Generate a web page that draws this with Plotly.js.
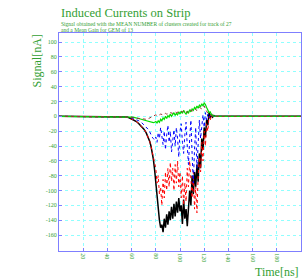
<!DOCTYPE html>
<html>
<head>
<meta charset="utf-8">
<script src="https://cdn.plot.ly/plotly-3.0.1.min.js"></script>
<style>html,body{margin:0;padding:0;background:#fff;}#chart{width:304px;height:278px;}</style>
</head>
<body>
<div id="chart"></div>
<script>
// Time axis (ns)
const timeNs = [0, 50, 52, 54, 56, 58, 60, 62, 64, 66, 68, 70, 72, 74,
  75, 76, 77, 78, 79, 80, 81, 82, 83, 84, 85, 86, 87, 88, 89, 90,
  91, 92, 93, 94, 95, 96, 97, 98, 99, 100, 101, 102, 103, 104, 105,
  106, 107, 108, 109, 110, 111, 112, 113, 114, 115, 116, 117, 118, 119, 120,
  121, 122, 123, 124, 125, 126, 127, 128, 129, 130, 200];

// Series values (nA)
const blackSignal = [0, 0, 0, -0.5, -1, -2, -3.5, -5, -7, -10, -13, -17, -22, -29,
  -34, -40, -48, -58, -72, -90, -110, -128, -140, -150, -146, -156, -138, -150, -132, -146,
  -128, -140, -122, -138, -118, -135, -115, -130, -110, -128, -120, -145, -112, -138, -125,
  -148, -118, -100, -120, -80, -105, -75, -95, -65, -88, -50, -70, -30, -45, -15,
  -28, -5, -12, 5, -2, 3, -1, 1, 0, 0, 0];

const redSignal = [0, 0, 0, -0.5, -1, -2, -3.5, -5, -7, -10, -13, -17, -22, -29,
  -34, -40, -48, -56, -62, -70, -90, -80, -105, -95, -120, -85, -110, -75, -100, -70,
  -95, -62, -88, -70, -100, -65, -90, -60, -95, -75, -110, -80, -120, -90, -115,
  -70, -95, -60, -85, -110, -75, -125, -95, -130, -80, -55, -75, -35, -60, -20,
  -40, -10, -20, 0, -6, 2, 0, 0, 0, 0, 0];

const blueSignal = [0, 0, 0, 0, -0.5, -1, -2, -3, -4.5, -6, -8, -11, -14, -18,
  -21, -25, -28, -30, -32, -28, -35, -22, -30, -15, -28, -38, -20, -45, -25, -12,
  -35, -20, -48, -30, -18, -40, -15, -30, -55, -20, -10, -35, -50, -25, -8,
  -40, -65, -30, -5, -50, -90, -45, -15, -70, -40, -5, -30, -10, 2, -15,
  5, -5, 3, -2, 1, 0, 0, 0, 0, 0, 0];

const greenSignal = [0, 0, 0, 0, 0, -0.5, -1, -1.5, -2, -3, -4, -5, -6, -7,
  -7.5, -8, -8, -8.5, -8, -7, -9, -6, -8, -4, -6, -2, -4, 0, -3, 1,
  -1, 3, 0, 2, 5, 1, 4, 2, 6, 3, 7, 4, 8, 5, 3,
  7, 4, 9, 6, 10, 8, 12, 10, 14, 11, 15, 13, 17, 14, 18,
  16, 12, 8, 5, 6, 2, 1, 0, 0, 0, 0];

const brownSignal = [0, 0, 0, 0, 0, -0.5, -1, -2, -2.5, -3.5, -4, -4.5, -4, -3,
  -2, -1, 0, 1, 1.5, 2, 1, 1, 2, 3, 2, 2, 3, 4, 3, 3,
  4, 5, 4, 4, 5, 6, 5, 5, 6, 7, 6, 6, 7, 8, 6,
  5, 7, 9, 8, 7, 8, 10, 9, 8, 10, 12, 11, 10, 12, 14,
  10, 6, 4, 2, 1, 0, 0, 0, 0, 0, 0];

// Tick labels
const xTickVals = [20, 40, 60, 80, 100, 120, 140, 160, 180];
const xTickText = ["20", "40", "60", "80", "100", "120", "140", "160", "180"];
const yTickVals = [100, 80, 60, 40, 20, 0, -20, -40, -60, -80, -100, -120, -140, -160];
const yTickText = ["100", "80", "60", "40", "20", "0", "-20", "-40", "-60", "-80", "-100", "-120", "-140", "-160"];

const titleText = "Induced Currents on Strip";
const subtitle1 = "Signal obtained with the MEAN NUMBER of clusters created for track of 27";
const subtitle2 = "and a Mean Gain for GEM of 13";

const green = "#33a033";
const frame = "#7f7fff";
const grid = "#8fffff";
const serif = "Liberation Serif, Times New Roman, serif";

const traces = [
  {x: timeNs, y: blackSignal, mode: "lines", line: {color: "#000000", width: 1.5}},
  {x: timeNs, y: redSignal, mode: "lines", line: {color: "#ff0000", width: 1, dash: "dot"}},
  {x: timeNs, y: blueSignal, mode: "lines", line: {color: "#0000ff", width: 1, dash: "dot"}},
  {x: timeNs, y: greenSignal, mode: "lines", line: {color: "#00dd00", width: 1.2}},
  {x: timeNs, y: brownSignal, mode: "lines", line: {color: "#993333", width: 1, dash: "dot"}}
];

const layout = {
  width: 304, height: 278,
  margin: {l: 59, r: 3, t: 33, b: 27, pad: 0},
  paper_bgcolor: "#ffffff", plot_bgcolor: "#ffffff",
  showlegend: false,
  font: {family: serif, color: green},
  xaxis: {
    range: [0, 200], tickvals: xTickVals, ticktext: xTickText, tickangle: 90,
    ticks: "inside", ticklen: 3, tickcolor: frame,
    showgrid: true, gridcolor: grid, griddash: "dot", gridwidth: 1,
    zeroline: false, showline: true, linecolor: frame, linewidth: 1, mirror: true,
    tickfont: {family: serif, size: 6, color: green}
  },
  yaxis: {
    range: [-181.5, 112.3], tickvals: yTickVals, ticktext: yTickText,
    ticks: "inside", ticklen: 3, tickcolor: frame,
    showgrid: true, gridcolor: grid, griddash: "dot", gridwidth: 1,
    zeroline: false, showline: true, linecolor: frame, linewidth: 1, mirror: true,
    tickfont: {family: serif, size: 6, color: green}
  },
  annotations: [
    {text: titleText, xref: "paper", yref: "paper", x: 0, y: 1.0917, xanchor: "left", yanchor: "middle",
     showarrow: false, font: {family: serif, size: 12.5, color: green}},
    {text: subtitle1, xref: "paper", yref: "paper", x: 0, y: (251 - 24) / 218, xanchor: "left", yanchor: "middle",
     showarrow: false, font: {family: serif, size: 5.5, color: green}},
    {text: subtitle2, xref: "paper", yref: "paper", x: 0, y: (251 - 29.5) / 218, xanchor: "left", yanchor: "middle",
     showarrow: false, font: {family: serif, size: 5.5, color: green}},
    {text: "Signal[nA]", xref: "paper", yref: "paper", x: (36 - 59) / 242, y: 1, xanchor: "center", yanchor: "top",
     textangle: -90, showarrow: false, font: {family: serif, size: 12, color: green}},
    {text: "Time[ns]", xref: "paper", yref: "paper", x: 1, y: (251 - 271.5) / 218, xanchor: "right", yanchor: "middle",
     showarrow: false, font: {family: serif, size: 12, color: green}}
  ]
};

Plotly.newPlot("chart", traces, layout, {displayModeBar: false, staticPlot: true});
</script>
</body>
</html>
